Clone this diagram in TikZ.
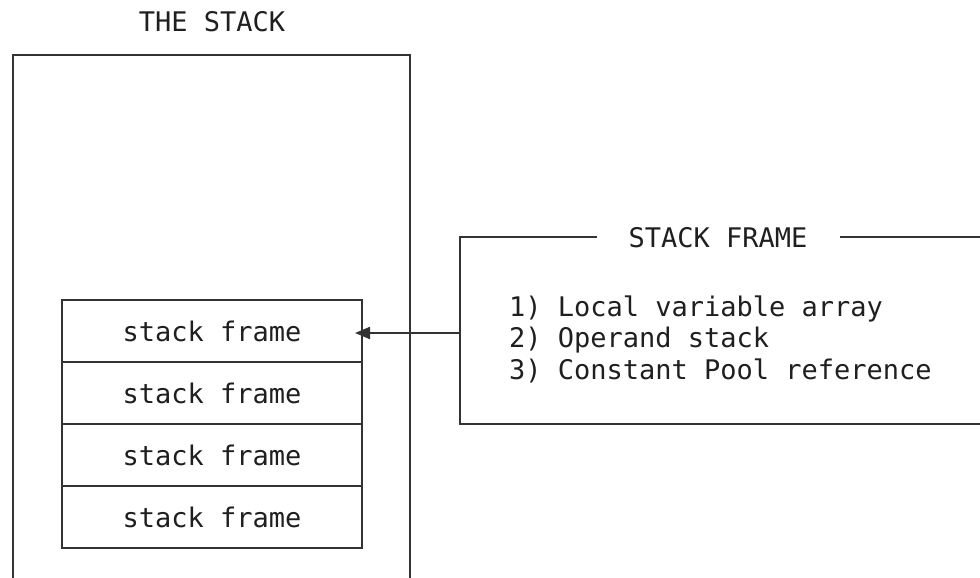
\documentclass[tikz,border=0pt]{standalone}
\usepackage{fontspec}
\setmonofont{DejaVu Sans Mono}
\usetikzlibrary{arrows.meta,positioning}

\begin{document}
\begin{tikzpicture}[x=1pt, y=1pt, >={Triangle[length=15pt, width=12pt]},
    line width=2pt, draw=black!80,
    every node/.style={font=\ttfamily\fontsize{27}{31.5}\selectfont, text=black!88},
    framebox/.style={draw=black!80, minimum width=300pt, minimum height=62pt,
      inner sep=0pt, outer sep=0pt}]
  \useasboundingbox (0,0) rectangle (980,578);
  % the stack
  \node (stacktitle) at (212,556) {THE STACK};
  \draw (13,-5) -- (13,523) -- (410,523) -- (410,-5);
  \node[framebox] (f1) at (212,246.5) {stack frame};
  \node[framebox, below=0pt of f1] (f2) {stack frame};
  \node[framebox, below=0pt of f2] (f3) {stack frame};
  \node[framebox, below=0pt of f3] (f4) {stack frame};
  % stack frame contents
  \node (frametitle) at (718,340) {STACK FRAME};
  \node[align=left, anchor=west, inner sep=0pt] (contents) at (508,239)
       {1) Local variable array\\2) Operand stack\\3) Constant Pool reference};
  \coordinate (framew) at (460,245);
  \draw (597,341) -- (460,341) -- (460,154) -- (990,154);
  \draw (840,341) -- (990,341);
  \draw[->, shorten >=-7pt] (framew) -- (framew -| f1.east);
\end{tikzpicture}
\end{document}
